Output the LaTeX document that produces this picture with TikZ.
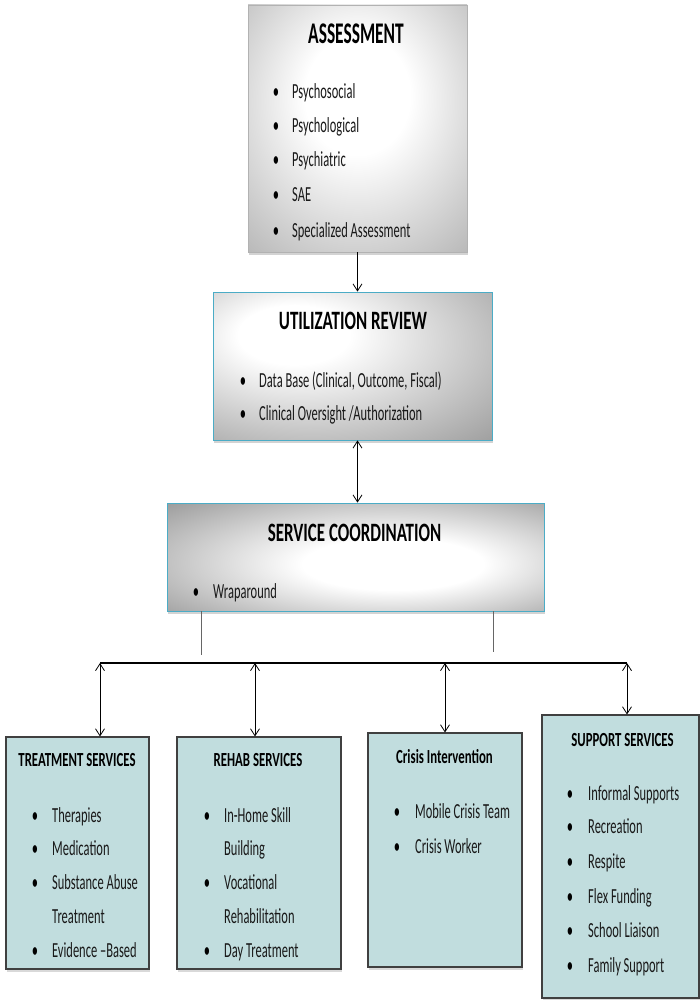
\documentclass[tikz,border=0pt]{standalone}
\usepackage{fontspec}
\setmainfont{Carlito}[FakeStretch=0.58]
\newfontfamily\titlefam{Carlito}[FakeStretch=0.64]
\usepackage{tikz}
\usetikzlibrary{positioning,arrows.meta,calc,shadows}

\definecolor{boxteal}{RGB}{193,221,222}
\definecolor{rimteal}{RGB}{75,172,198}
\pgfdeclareradialshading{glowtop}{\pgfpoint{0bp}{8bp}}{color(0bp)=(white); color(12bp)=(white); color(50bp)=(black!40); color(72bp)=(black!55)}
\pgfdeclareradialshading{glowleft}{\pgfpoint{-12bp}{12bp}}{color(0bp)=(white); color(10bp)=(white); color(50bp)=(black!45); color(80bp)=(black!65)}
\pgfdeclareradialshading{glowmid}{\pgfpoint{6bp}{-4bp}}{color(0bp)=(white); color(12bp)=(white); color(45bp)=(black!48); color(72bp)=(black!58)}

\newcommand\entryfont{\fontsize{21.5}{26}\selectfont}
\newcommand\headfont{\titlefam\fontsize{20}{24}\selectfont\bfseries}

\begin{document}
\begin{tikzpicture}[x=1pt, y=-1pt,
  bigbox/.style={rectangle, inner sep=0pt, draw=rimteal, line width=0.8pt,
    drop shadow={shadow xshift=1pt, shadow yshift=-3pt, opacity=0.35}},
  subbox/.style={rectangle, inner sep=0pt, draw=black!75, line width=1.1pt, fill=boxteal,
    drop shadow={shadow xshift=1pt, shadow yshift=-3pt, opacity=0.3}},
  title/.style={anchor=base, inner sep=0pt},
  bul/.style={anchor=base, inner sep=0pt, font=\entryfont},
  entry/.style={anchor=base west, inner sep=0pt, font=\entryfont, text=black!90},
  tip/.style={-{Straight Barb[length=7pt,width=9pt]}, line width=0.8pt},
  dbl/.style={{Straight Barb[length=7pt,width=9pt]}-{Straight Barb[length=7pt,width=9pt]}, line width=0.8pt},
  stub/.style={draw=black!60, line width=0.7pt}]
\useasboundingbox (0,0) rectangle (700,1000);

% Top boxes
\node[bigbox, draw=black!30, line width=0.4pt, shading=glowtop, minimum width=219pt, minimum height=247pt] (ass) at (357.5,128.5) {};
\node[bigbox, shading=glowleft, minimum width=279pt, minimum height=148pt] (ur) at (352.5,366) {};
\node[bigbox, shading=glowmid, minimum width=377pt, minimum height=108pt] (sc) at (355.5,557) {};

% Assessment
\node[title, font=\fontsize{30}{36}\selectfont\bfseries] (ass-t) at (356,44) {ASSESSMENT};
\node[bul] (ass-b1) at (276,99) {•}; \node[entry] (ass-1) at (292,99) {Psychosocial};
\node[bul] (ass-b2) at (276,133) {•}; \node[entry] (ass-2) at (292,133) {Psychological};
\node[bul] (ass-b3) at (276,167) {•}; \node[entry] (ass-3) at (292,167) {Psychiatric};
\node[bul] (ass-b4) at (276,202) {•}; \node[entry] (ass-4) at (292,202) {SAE};
\node[bul] (ass-b5) at (276,237) {•}; \node[entry] (ass-5) at (292,237) {Specialized Assessment};

% Utilization review
\node[title, font=\titlefam\fontsize{26.5}{30}\selectfont\bfseries] (ur-t) at (353,329) {UTILIZATION REVIEW};
\node[bul] (ur-b1) at (243,387) {•}; \node[entry] (ur-1) at (259,387) {Data Base (Clinical, Outcome, Fiscal)};
\node[bul] (ur-b2) at (243,420) {•}; \node[entry] (ur-2) at (259,420) {Clinical Oversight /Authorization};

% Service coordination
\node[title, font=\titlefam\fontsize{26.5}{30}\selectfont\bfseries] (sc-t) at (354.5,541) {SERVICE COORDINATION};
\node[bul] (sc-b1) at (196,598) {•}; \node[entry] (sc-1) at (213,598) {Wraparound};

% Bottom boxes
\node[subbox, minimum width=143pt, minimum height=232pt] (treat) at (77.5,853) {};
\node[subbox, minimum width=164pt, minimum height=232pt] (rehab) at (259,853) {};
\node[subbox, minimum width=154pt, minimum height=234pt] (crisis) at (445,850) {};
\node[subbox, minimum width=157pt, minimum height=283pt] (supp) at (620.5,856.5) {};

% Treatment services
\node[title, font=\headfont] (treat-t) at (77,766) {TREATMENT SERVICES};
\node[bul] (treat-b1) at (35,822) {•}; \node[entry] (treat-1) at (52,822) {Therapies};
\node[bul] (treat-b2) at (35,855) {•}; \node[entry] (treat-2) at (52,855) {Medication};
\node[bul] (treat-b3) at (35,889) {•}; \node[entry] (treat-3) at (52,889) {Substance Abuse};
\node[entry] (treat-3b) at (52,923) {Treatment};
\node[bul] (treat-b4) at (35,957) {•}; \node[entry] (treat-4) at (52,957) {Evidence –Based};

% Rehab services
\node[title, font=\headfont] (rehab-t) at (258,766) {REHAB SERVICES};
\node[bul] (rehab-b1) at (207,822) {•}; \node[entry] (rehab-1) at (224,822) {In-Home Skill};
\node[entry] (rehab-1b) at (224,855) {Building};
\node[bul] (rehab-b2) at (207,889) {•}; \node[entry] (rehab-2) at (224,889) {Vocational};
\node[entry] (rehab-2b) at (224,923) {Rehabilitation};
\node[bul] (rehab-b3) at (207,957) {•}; \node[entry] (rehab-3) at (224,957) {Day Treatment};

% Crisis intervention
\node[title, font=\headfont] (crisis-t) at (444.5,763) {Crisis Intervention};
\node[bul] (crisis-b1) at (397,818) {•}; \node[entry] (crisis-1) at (415,818) {Mobile Crisis Team};
\node[bul] (crisis-b2) at (397,853) {•}; \node[entry] (crisis-2) at (415,853) {Crisis Worker};

% Support services
\node[title, font=\headfont] (supp-t) at (622.5,746) {SUPPORT SERVICES};
\node[bul] (supp-b1) at (570,800) {•}; \node[entry] (supp-1) at (588,800) {Informal Supports};
\node[bul] (supp-b2) at (570,833) {•}; \node[entry] (supp-2) at (588,833) {Recreation};
\node[bul] (supp-b3) at (570,868) {•}; \node[entry] (supp-3) at (588,868) {Respite};
\node[bul] (supp-b4) at (570,903) {•}; \node[entry] (supp-4) at (588,903) {Flex Funding};
\node[bul] (supp-b5) at (570,937) {•}; \node[entry] (supp-5) at (588,937) {School Liaison};
\node[bul] (supp-b6) at (570,972) {•}; \node[entry] (supp-6) at (588,972) {Family Support};

% Connectors between the top boxes
\draw[tip] (ass.south) -- (ass.south |- ur.north);
\draw[dbl] (ur.south -| ass.south) -- (sc.north -| ass.south);

% Stubs below service coordination
\coordinate (stub1) at (201,655);
\coordinate (stub2) at (493,652);
\draw[stub] (stub1 |- sc.south) -- (stub1);
\draw[stub] (stub2 |- sc.south) -- (stub2);

% Distribution bar
\coordinate (bar1) at (100,663);
\coordinate (bar2) at (255,663);
\coordinate (bar3) at (445,663);
\coordinate (bar4) at (627,663);
\draw[line width=1.1pt] (bar1) -- (bar4);
\draw[dbl] (bar1) -- (bar1 |- treat.north);
\draw[dbl] (bar2) -- (bar2 |- rehab.north);
\draw[dbl] (bar3) -- (bar3 |- crisis.north);
\draw[dbl] (bar4) -- (bar4 |- supp.north);
\end{tikzpicture}
\end{document}
